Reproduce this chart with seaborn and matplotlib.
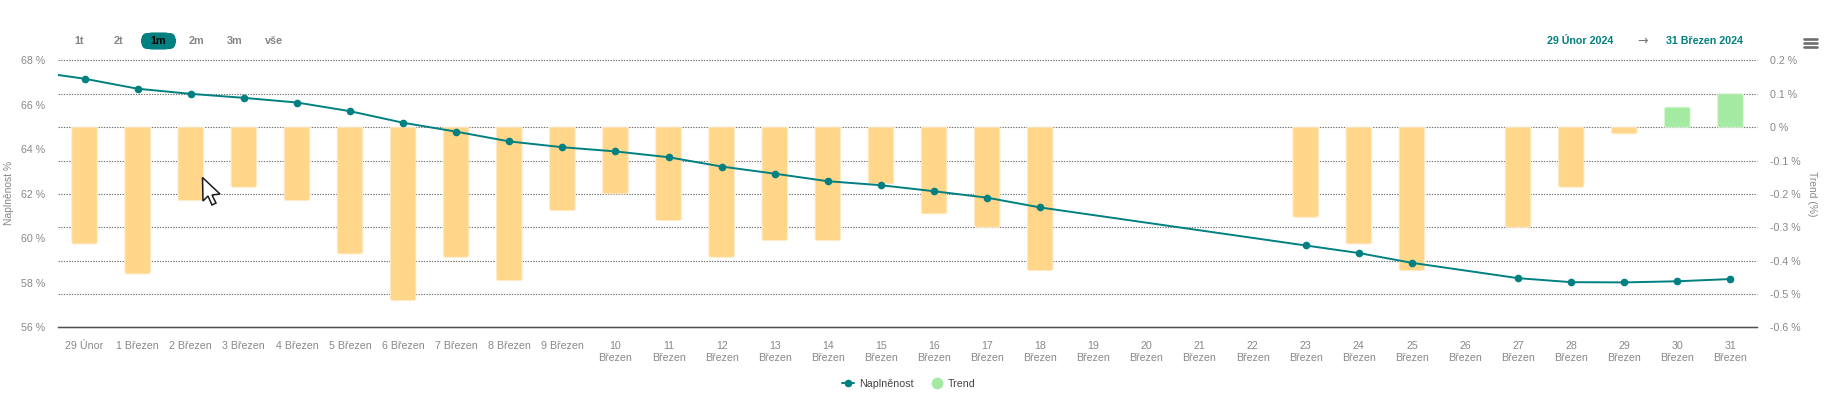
import numpy as np
import pandas as pd
import matplotlib
matplotlib.use("Agg")
import matplotlib.pyplot as plt
import seaborn as sns
from matplotlib.lines import Line2D
from matplotlib.patches import FancyBboxPatch, PathPatch, Polygon
from matplotlib.path import Path

# values, nan = no point / no bar that day
day_labels = ["29 Únor"] + [f"{d} Březen" for d in range(1, 10)] + [f"{d}\nBřezen" for d in range(10, 32)]
fill_pct = [67.18, 66.73, 66.50, 66.32, 66.11, 65.72, 65.20, 64.80, 64.36, 64.10, 63.91,
            63.65, 63.23, 62.91, 62.57, 62.39, 62.12, 61.83, 61.39, np.nan, np.nan, np.nan,
            np.nan, 59.68, 59.34, 58.90, np.nan, 58.21, 58.03, 58.02, 58.07, 58.17]
trend_pct = [-0.35, -0.44, -0.22, -0.18, -0.22, -0.38, -0.52, -0.39, -0.46, -0.25, -0.20,
             -0.28, -0.39, -0.34, -0.34, -0.17, -0.26, -0.30, -0.43, np.nan, np.nan, np.nan,
             np.nan, -0.27, -0.35, -0.43, np.nan, -0.30, -0.18, -0.02, 0.06, 0.10]
# the line comes in from a day left of the visible range
lead_in_pct = 67.52
left_ticks = [56, 58, 60, 62, 64, 66, 68]
right_ticks = [-0.6, -0.5, -0.4, -0.3, -0.2, -0.1, 0, 0.1, 0.2]
range_buttons = ["1t", "2t", "1m", "2m", "3m", "vše"]

W, H = 1830, 409
TEAL = "#008080"
ORANGE = "#FFD68A"
GREEN = "#A5EAA2"
GREY = "#888888"

sns.set_theme(style="white")
plt.rcParams["font.family"] = ["Liberation Sans", "DejaVu Sans"]
plt.rcParams["font.size"] = 8


def fx(x):
    return x / W


def fy(y):
    return 1 - y / H


def round_far_end(ax, bar, rx=0.045, ry=0.006):
    # swap a seaborn bar for one with rounded corners on the end away from zero
    x0, x1 = bar.get_x(), bar.get_x() + bar.get_width()
    end = bar.get_height()
    ry = np.sign(end) * ry
    verts = [(x0, 0), (x0, end - ry), (x0, end), (x0 + rx, end), (x1 - rx, end), (x1, end), (x1, end - ry), (x1, 0), (x0, 0)]
    codes = [Path.MOVETO, Path.LINETO, Path.CURVE3, Path.CURVE3, Path.LINETO, Path.CURVE3, Path.CURVE3, Path.LINETO, Path.CLOSEPOLY]
    ax.add_patch(PathPatch(Path(verts, codes), facecolor=bar.get_facecolor(),
                           edgecolor="#FFEBC8" if end < 0 else "#D4F5D2", linewidth=0.7, zorder=bar.get_zorder()))
    bar.set_visible(False)


df = pd.DataFrame({"day": day_labels, "pos": range(len(day_labels)), "fill": fill_pct, "trend": trend_pct})
df["kind"] = np.where(df["trend"] > 0, "up", "down")

fig = plt.figure(figsize=(W / 100, H / 100), dpi=100, facecolor="white")
ax = fig.add_axes([fx(58), fy(327.3), fx(1757 - 58), (327.3 - 60.5) / H])
ax2 = ax.twinx()

# bars + grid sit on the right axis
sns.barplot(data=df, x="day", y="trend", hue="kind", order=day_labels, hue_order=["down", "up"],
            palette={"down": ORANGE, "up": GREEN}, dodge=False, width=0.48, legend=False,
            saturation=1, ax=ax2)
for p in list(ax2.patches):
    if np.isfinite(p.get_height()) and p.get_height() != 0:
        round_far_end(ax2, p)
ax2.set_axisbelow(True)
ax2.yaxis.grid(True, linestyle=(0, (1.2, 1.2)), linewidth=0.8, color="#707070")
ax2.xaxis.grid(False)
ax2.set_ylim(-0.6, 0.2)
ax2.set_yticks(right_ticks)
ax2.set_yticklabels([f"{t:g} %" for t in right_ticks])
ax2.set_xlabel("")
ax2.set_ylabel("")
ax2.tick_params(axis="y", length=0, pad=9, labelsize=7.7, labelcolor=GREY, labelright=True, labelleft=False)
for line in ax2.get_ygridlines():
    line.set_clip_on(False)

# line on the left axis, above the bars
ax.set_zorder(ax2.get_zorder() + 1)
ax.patch.set_visible(False)
known = df.dropna(subset=["fill"])
sns.lineplot(x=[-1, known["pos"].iloc[0]], y=[lead_in_pct, known["fill"].iloc[0]], color=TEAL,
             linewidth=1.4, ax=ax, legend=False, errorbar=None)
sns.lineplot(data=known, x="pos", y="fill", color=TEAL, linewidth=1.4, marker="o", markersize=5.5,
             markeredgecolor=TEAL, markeredgewidth=0, ax=ax, legend=False, errorbar=None)
ax.set_xlim(-0.5, len(day_labels) - 0.5)
ax2.set_xlim(-0.5, len(day_labels) - 0.5)
ax.set_ylim(56, 68)
ax.set_yticks(left_ticks)
ax.set_yticklabels([f"{t} %" for t in left_ticks])
ax.set_xticks(range(len(day_labels)))
ax.set_xticklabels(day_labels, linespacing=1.2)
ax.set_xlabel("")
ax.set_ylabel("")
ax.tick_params(axis="y", length=0, pad=9, labelsize=7.7, labelcolor=GREY)
ax.tick_params(axis="x", length=5.5, width=0.9, color="#808080", pad=4.5, labelsize=7.7, labelcolor=GREY)
ax2.tick_params(axis="x", length=0, labelbottom=False)
for a in (ax, ax2):
    for side in ("top", "left", "right"):
        a.spines[side].set_visible(False)
    a.spines["bottom"].set_color("#4d4d4d")
    a.spines["bottom"].set_linewidth(0.9)

# axis titles
fig.text(fx(9), fy(193), "Naplněnost %", rotation=90, ha="center", va="center", fontsize=7.4, color=GREY)
fig.text(fx(1812), fy(194), "Trend (%)", rotation=270, ha="center", va="center", fontsize=7.4, color=GREY)

# range selector
button_x = [79, 118, 158, 196, 235, 274]
fig.add_artist(FancyBboxPatch((fx(147), fy(44)), fx(23), 6 / H, boxstyle="round,pad=0,rounding_size=0.003",
                              transform=fig.transFigure, facecolor=TEAL, edgecolor=TEAL, linewidth=8,
                              mutation_aspect=W / H, joinstyle="round"))
for label, x in zip(range_buttons, button_x):
    active = label == "1m"
    fig.text(fx(x), fy(41), label, ha="center", va="center", fontsize=7.8, fontweight="bold",
             color="black" if active else "#858585")

# date range
fig.text(fx(1580), fy(40.5), "29 Únor 2024", ha="center", va="center", fontsize=7.7, fontweight="bold", color=TEAL)
fig.text(fx(1643), fy(41), "→", ha="center", va="center", fontsize=9, color="#777777", family="DejaVu Sans")
fig.text(fx(1704), fy(40.5), "31 Březen 2024", ha="center", va="center", fontsize=7.7, fontweight="bold", color=TEAL)

# export menu icon
for y in (39, 43, 47):
    fig.add_artist(Line2D([fx(1804), fx(1817)], [fy(y), fy(y)], color="#6e6e6e", linewidth=1.9,
                          transform=fig.transFigure))

# legend
handles = [Line2D([], [], color=TEAL, linewidth=1.4, marker="o", markersize=5.5, markeredgewidth=0),
           Line2D([], [], color="none", marker="o", markersize=8.5, markerfacecolor=GREEN, markeredgewidth=0)]
fig.legend(handles, ["Naplněnost", "Trend"], loc="center", bbox_to_anchor=(fx(909), fy(384)), ncol=2,
           frameon=False, fontsize=7.7, labelcolor="#444444", handlelength=1.15, columnspacing=1.6, handletextpad=0.45)

# mouse pointer caught in the screenshot
pointer = [(202.5, 177.5), (220, 194), (212, 195), (216, 203), (212, 205), (208, 196), (203, 201)]
fig.add_artist(Polygon([(fx(x), fy(y)) for x, y in pointer], closed=True, transform=fig.transFigure,
                       facecolor="white", edgecolor="#1a1a1a", linewidth=1.1, zorder=10))

fig.savefig("out.png", dpi=100, facecolor="white")
